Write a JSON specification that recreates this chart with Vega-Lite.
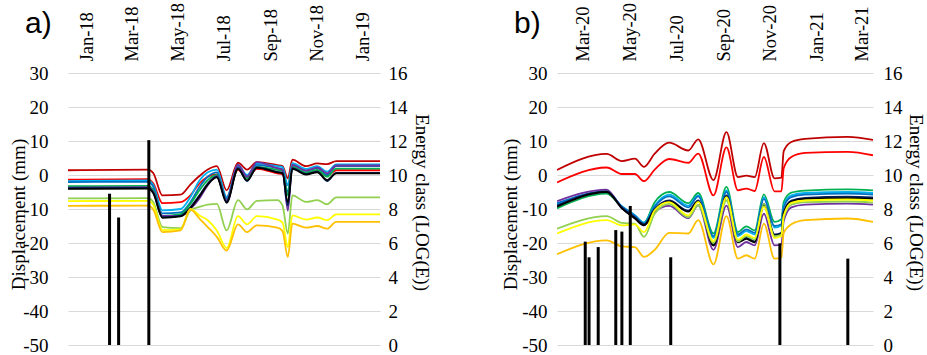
{
"$schema": "https://vega.github.io/schema/vega-lite/v6.json",
"autosize": {"type": "none"},
"padding": {"left": 68, "top": 73, "right": 859, "bottom": 282},
"background": "white",
"bounds": "flush",
"spacing": 177,
"config": {
  "view": {"stroke": null},
  "axis": {"labelFont": "Liberation Serif", "titleFont": "Liberation Serif", "labelColor": "#000", "titleColor": "#000", "titleFontWeight": "normal", "labelFontSize": 19, "titleFontSize": 19},
  "title": {"font": "Liberation Sans", "fontSize": 30, "fontWeight": "normal", "color": "#000"}
},
"datasets": {
"a_lines": [
{"s":"dr","t":"2017-12-07","v":1.4},{"s":"dr","t":"2018-03-23","v":1.6},{"s":"dr","t":"2018-03-30","v":0.5},{"s":"dr","t":"2018-04-11","v":-6.0},{"s":"dr","t":"2018-05-05","v":-5.8},{"s":"dr","t":"2018-05-18","v":-2.8},{"s":"dr","t":"2018-05-30","v":-0.3},{"s":"dr","t":"2018-06-10","v":1.6},{"s":"dr","t":"2018-06-22","v":2.6},{"s":"dr","t":"2018-07-05","v":-4.5},{"s":"dr","t":"2018-07-20","v":3.6},{"s":"dr","t":"2018-08-01","v":1.6},{"s":"dr","t":"2018-08-14","v":3.8},{"s":"dr","t":"2018-09-10","v":2.9},{"s":"dr","t":"2018-09-17","v":2.6},{"s":"dr","t":"2018-09-24","v":-1.0},{"s":"dr","t":"2018-09-30","v":4.5},{"s":"dr","t":"2018-10-18","v":2.6},{"s":"dr","t":"2018-11-02","v":3.4},{"s":"dr","t":"2018-11-15","v":3.2},{"s":"dr","t":"2018-11-27","v":4.1},{"s":"dr","t":"2019-01-24","v":4.1},
{"s":"r","t":"2017-12-07","v":-1.4},{"s":"r","t":"2018-03-23","v":-1.2},{"s":"r","t":"2018-03-30","v":-2.5},{"s":"r","t":"2018-04-11","v":-8.3},{"s":"r","t":"2018-05-05","v":-8.0},{"s":"r","t":"2018-05-18","v":-6.0},{"s":"r","t":"2018-05-30","v":-2.5},{"s":"r","t":"2018-06-10","v":-0.5},{"s":"r","t":"2018-06-22","v":0.2},{"s":"r","t":"2018-07-05","v":-6.5},{"s":"r","t":"2018-07-20","v":1.5},{"s":"r","t":"2018-08-01","v":-0.8},{"s":"r","t":"2018-08-14","v":1.8},{"s":"r","t":"2018-09-10","v":0.5},{"s":"r","t":"2018-09-17","v":0.2},{"s":"r","t":"2018-09-24","v":-3.0},{"s":"r","t":"2018-09-30","v":2.0},{"s":"r","t":"2018-10-18","v":0.5},{"s":"r","t":"2018-11-02","v":1.2},{"s":"r","t":"2018-11-15","v":-0.3},{"s":"r","t":"2018-11-27","v":1.4},{"s":"r","t":"2019-01-24","v":1.4},
{"s":"c","t":"2017-12-07","v":-1.8},{"s":"c","t":"2018-03-23","v":-1.6},{"s":"c","t":"2018-03-30","v":-3.0},{"s":"c","t":"2018-04-11","v":-10.4},{"s":"c","t":"2018-05-05","v":-10.0},{"s":"c","t":"2018-05-18","v":-6.5},{"s":"c","t":"2018-05-30","v":-1.6},{"s":"c","t":"2018-06-10","v":0.8},{"s":"c","t":"2018-06-22","v":1.6},{"s":"c","t":"2018-07-05","v":-6.5},{"s":"c","t":"2018-07-20","v":3.0},{"s":"c","t":"2018-08-01","v":0.0},{"s":"c","t":"2018-08-14","v":3.4},{"s":"c","t":"2018-09-10","v":2.6},{"s":"c","t":"2018-09-17","v":2.3},{"s":"c","t":"2018-09-24","v":-3.0},{"s":"c","t":"2018-09-30","v":3.5},{"s":"c","t":"2018-10-18","v":1.8},{"s":"c","t":"2018-11-02","v":2.6},{"s":"c","t":"2018-11-15","v":1.0},{"s":"c","t":"2018-11-27","v":3.1},{"s":"c","t":"2019-01-24","v":3.1},
{"s":"b","t":"2017-12-07","v":-2.1},{"s":"b","t":"2018-03-23","v":-2.0},{"s":"b","t":"2018-03-30","v":-3.5},{"s":"b","t":"2018-04-11","v":-11.3},{"s":"b","t":"2018-05-05","v":-11.0},{"s":"b","t":"2018-05-18","v":-8.0},{"s":"b","t":"2018-05-30","v":-3.5},{"s":"b","t":"2018-06-10","v":-0.5},{"s":"b","t":"2018-06-22","v":0.8},{"s":"b","t":"2018-07-05","v":-7.0},{"s":"b","t":"2018-07-20","v":2.4},{"s":"b","t":"2018-08-01","v":-0.5},{"s":"b","t":"2018-08-14","v":3.0},{"s":"b","t":"2018-09-10","v":2.0},{"s":"b","t":"2018-09-17","v":1.7},{"s":"b","t":"2018-09-24","v":-5.0},{"s":"b","t":"2018-09-30","v":3.0},{"s":"b","t":"2018-10-18","v":1.3},{"s":"b","t":"2018-11-02","v":2.0},{"s":"b","t":"2018-11-15","v":0.0},{"s":"b","t":"2018-11-27","v":2.6},{"s":"b","t":"2019-01-24","v":2.6},
{"s":"g","t":"2017-12-07","v":-3.3},{"s":"g","t":"2018-03-23","v":-3.2},{"s":"g","t":"2018-03-30","v":-4.5},{"s":"g","t":"2018-04-11","v":-12.0},{"s":"g","t":"2018-05-05","v":-11.5},{"s":"g","t":"2018-05-18","v":-8.5},{"s":"g","t":"2018-05-30","v":-4.5},{"s":"g","t":"2018-06-10","v":-1.5},{"s":"g","t":"2018-06-22","v":0.0},{"s":"g","t":"2018-07-05","v":-7.5},{"s":"g","t":"2018-07-20","v":1.8},{"s":"g","t":"2018-08-01","v":-1.0},{"s":"g","t":"2018-08-14","v":2.4},{"s":"g","t":"2018-09-10","v":1.5},{"s":"g","t":"2018-09-17","v":1.2},{"s":"g","t":"2018-09-24","v":-6.0},{"s":"g","t":"2018-09-30","v":2.5},{"s":"g","t":"2018-10-18","v":0.8},{"s":"g","t":"2018-11-02","v":1.5},{"s":"g","t":"2018-11-15","v":-0.5},{"s":"g","t":"2018-11-27","v":1.9},{"s":"g","t":"2019-01-24","v":1.9},
{"s":"p","t":"2017-12-07","v":-3.7},{"s":"p","t":"2018-03-23","v":-3.6},{"s":"p","t":"2018-03-30","v":-5.0},{"s":"p","t":"2018-04-11","v":-12.0},{"s":"p","t":"2018-05-05","v":-12.0},{"s":"p","t":"2018-05-18","v":-10.0},{"s":"p","t":"2018-05-30","v":-6.9},{"s":"p","t":"2018-06-10","v":-3.0},{"s":"p","t":"2018-06-22","v":-0.3},{"s":"p","t":"2018-07-05","v":-7.5},{"s":"p","t":"2018-07-20","v":3.0},{"s":"p","t":"2018-08-01","v":-0.5},{"s":"p","t":"2018-08-14","v":3.8},{"s":"p","t":"2018-09-10","v":2.0},{"s":"p","t":"2018-09-17","v":1.5},{"s":"p","t":"2018-09-24","v":-10.5},{"s":"p","t":"2018-09-30","v":3.0},{"s":"p","t":"2018-10-18","v":1.3},{"s":"p","t":"2018-11-02","v":2.2},{"s":"p","t":"2018-11-15","v":0.5},{"s":"p","t":"2018-11-27","v":2.8},{"s":"p","t":"2019-01-24","v":2.8},
{"s":"n","t":"2017-12-07","v":-3.9},{"s":"n","t":"2018-03-23","v":-3.8},{"s":"n","t":"2018-03-30","v":-5.2},{"s":"n","t":"2018-04-11","v":-12.4},{"s":"n","t":"2018-05-05","v":-12.0},{"s":"n","t":"2018-05-18","v":-9.5},{"s":"n","t":"2018-05-30","v":-6.0},{"s":"n","t":"2018-06-10","v":-2.5},{"s":"n","t":"2018-06-22","v":-0.5},{"s":"n","t":"2018-07-05","v":-7.9},{"s":"n","t":"2018-07-20","v":2.0},{"s":"n","t":"2018-08-01","v":-1.8},{"s":"n","t":"2018-08-14","v":2.3},{"s":"n","t":"2018-09-10","v":0.9},{"s":"n","t":"2018-09-17","v":0.6},{"s":"n","t":"2018-09-24","v":-9.0},{"s":"n","t":"2018-09-30","v":2.0},{"s":"n","t":"2018-10-18","v":0.3},{"s":"n","t":"2018-11-02","v":1.0},{"s":"n","t":"2018-11-15","v":-1.8},{"s":"n","t":"2018-11-27","v":0.6},{"s":"n","t":"2019-01-24","v":0.6},
{"s":"k","t":"2017-12-07","v":-4.1},{"s":"k","t":"2018-03-23","v":-4.0},{"s":"k","t":"2018-03-30","v":-5.4},{"s":"k","t":"2018-04-11","v":-12.6},{"s":"k","t":"2018-05-05","v":-12.2},{"s":"k","t":"2018-05-18","v":-9.8},{"s":"k","t":"2018-05-30","v":-6.3},{"s":"k","t":"2018-06-10","v":-2.8},{"s":"k","t":"2018-06-22","v":-0.7},{"s":"k","t":"2018-07-05","v":-8.2},{"s":"k","t":"2018-07-20","v":1.8},{"s":"k","t":"2018-08-01","v":-1.6},{"s":"k","t":"2018-08-14","v":2.1},{"s":"k","t":"2018-09-10","v":0.8},{"s":"k","t":"2018-09-17","v":0.5},{"s":"k","t":"2018-09-24","v":-8.0},{"s":"k","t":"2018-09-30","v":1.8},{"s":"k","t":"2018-10-18","v":0.1},{"s":"k","t":"2018-11-02","v":0.8},{"s":"k","t":"2018-11-15","v":-1.5},{"s":"k","t":"2018-11-27","v":0.5},{"s":"k","t":"2019-01-24","v":0.5},
{"s":"lg","t":"2017-12-07","v":-6.9},{"s":"lg","t":"2018-03-23","v":-6.8},{"s":"lg","t":"2018-03-30","v":-8.0},{"s":"lg","t":"2018-04-11","v":-15.3},{"s":"lg","t":"2018-05-05","v":-15.6},{"s":"lg","t":"2018-05-18","v":-10.4},{"s":"lg","t":"2018-05-30","v":-9.4},{"s":"lg","t":"2018-06-10","v":-8.7},{"s":"lg","t":"2018-06-22","v":-8.5},{"s":"lg","t":"2018-07-05","v":-16.3},{"s":"lg","t":"2018-07-20","v":-7.4},{"s":"lg","t":"2018-08-01","v":-10.1},{"s":"lg","t":"2018-08-14","v":-7.6},{"s":"lg","t":"2018-09-10","v":-7.4},{"s":"lg","t":"2018-09-17","v":-9.0},{"s":"lg","t":"2018-09-24","v":-17.2},{"s":"lg","t":"2018-09-30","v":-6.0},{"s":"lg","t":"2018-10-18","v":-7.9},{"s":"lg","t":"2018-11-02","v":-7.4},{"s":"lg","t":"2018-11-15","v":-8.6},{"s":"lg","t":"2018-11-27","v":-6.6},{"s":"lg","t":"2019-01-24","v":-6.6},
{"s":"y","t":"2017-12-07","v":-7.7},{"s":"y","t":"2018-03-23","v":-7.6},{"s":"y","t":"2018-03-30","v":-8.8},{"s":"y","t":"2018-04-11","v":-16.2},{"s":"y","t":"2018-05-05","v":-16.0},{"s":"y","t":"2018-05-18","v":-10.0},{"s":"y","t":"2018-05-30","v":-11.9},{"s":"y","t":"2018-06-10","v":-13.3},{"s":"y","t":"2018-06-22","v":-16.3},{"s":"y","t":"2018-07-05","v":-21.5},{"s":"y","t":"2018-07-20","v":-12.1},{"s":"y","t":"2018-08-01","v":-14.5},{"s":"y","t":"2018-08-14","v":-12.1},{"s":"y","t":"2018-09-10","v":-13.1},{"s":"y","t":"2018-09-17","v":-14.0},{"s":"y","t":"2018-09-24","v":-21.2},{"s":"y","t":"2018-09-30","v":-11.9},{"s":"y","t":"2018-10-18","v":-13.1},{"s":"y","t":"2018-11-02","v":-12.5},{"s":"y","t":"2018-11-15","v":-13.3},{"s":"y","t":"2018-11-27","v":-11.6},{"s":"y","t":"2019-01-24","v":-11.6},
{"s":"o","t":"2017-12-07","v":-9.1},{"s":"o","t":"2018-03-23","v":-9.0},{"s":"o","t":"2018-03-30","v":-10.2},{"s":"o","t":"2018-04-11","v":-16.8},{"s":"o","t":"2018-05-05","v":-16.3},{"s":"o","t":"2018-05-18","v":-10.2},{"s":"o","t":"2018-05-30","v":-12.8},{"s":"o","t":"2018-06-10","v":-15.3},{"s":"o","t":"2018-06-22","v":-18.2},{"s":"o","t":"2018-07-05","v":-22.2},{"s":"o","t":"2018-07-20","v":-14.5},{"s":"o","t":"2018-08-01","v":-16.8},{"s":"o","t":"2018-08-14","v":-14.8},{"s":"o","t":"2018-09-10","v":-15.5},{"s":"o","t":"2018-09-17","v":-16.5},{"s":"o","t":"2018-09-24","v":-24.1},{"s":"o","t":"2018-09-30","v":-14.3},{"s":"o","t":"2018-10-18","v":-15.5},{"s":"o","t":"2018-11-02","v":-15.0},{"s":"o","t":"2018-11-15","v":-15.8},{"s":"o","t":"2018-11-27","v":-13.8},{"s":"o","t":"2019-01-24","v":-13.8}
],
"a_energy": [
{"t":"2018-01-31","e":8.9},{"t":"2018-02-12","e":7.5},{"t":"2018-03-24","e":12.05}
],
"b_lines": [
{"s":"dr","t":"2020-01-27","v":1.5},{"s":"dr","t":"2020-04-01","v":6.2},{"s":"dr","t":"2020-04-21","v":4.1},{"s":"dr","t":"2020-05-08","v":4.8},{"s":"dr","t":"2020-05-20","v":2.4},{"s":"dr","t":"2020-06-03","v":6.3},{"s":"dr","t":"2020-06-22","v":9.5},{"s":"dr","t":"2020-07-17","v":7.2},{"s":"dr","t":"2020-07-30","v":10.5},{"s":"dr","t":"2020-08-19","v":-1.5},{"s":"dr","t":"2020-09-05","v":12.6},{"s":"dr","t":"2020-09-20","v":-0.6},{"s":"dr","t":"2020-10-01","v":-0.2},{"s":"dr","t":"2020-10-12","v":-0.6},{"s":"dr","t":"2020-10-24","v":9.4},{"s":"dr","t":"2020-11-07","v":-1.0},{"s":"dr","t":"2020-11-16","v":-0.8},{"s":"dr","t":"2020-11-19","v":7.0},{"s":"dr","t":"2020-11-29","v":9.7},{"s":"dr","t":"2020-12-17","v":10.6},{"s":"dr","t":"2021-02-11","v":11.2},{"s":"dr","t":"2021-03-16","v":10.3},
{"s":"r","t":"2020-01-27","v":-2.2},{"s":"r","t":"2020-04-01","v":2.2},{"s":"r","t":"2020-04-21","v":0.3},{"s":"r","t":"2020-05-08","v":0.3},{"s":"r","t":"2020-05-20","v":-1.8},{"s":"r","t":"2020-06-03","v":1.6},{"s":"r","t":"2020-06-22","v":4.7},{"s":"r","t":"2020-07-17","v":3.6},{"s":"r","t":"2020-07-30","v":6.3},{"s":"r","t":"2020-08-19","v":-6.0},{"s":"r","t":"2020-09-05","v":8.1},{"s":"r","t":"2020-09-20","v":-4.5},{"s":"r","t":"2020-10-01","v":-4.0},{"s":"r","t":"2020-10-12","v":-4.7},{"s":"r","t":"2020-10-24","v":5.3},{"s":"r","t":"2020-11-07","v":-4.8},{"s":"r","t":"2020-11-16","v":-4.8},{"s":"r","t":"2020-11-19","v":2.0},{"s":"r","t":"2020-11-29","v":5.3},{"s":"r","t":"2020-12-17","v":6.5},{"s":"r","t":"2021-02-11","v":6.8},{"s":"r","t":"2021-03-16","v":5.8},
{"s":"g","t":"2020-01-27","v":-9.8},{"s":"g","t":"2020-04-01","v":-5.5},{"s":"g","t":"2020-04-21","v":-9.5},{"s":"g","t":"2020-05-08","v":-12.0},{"s":"g","t":"2020-05-20","v":-14.0},{"s":"g","t":"2020-06-03","v":-8.0},{"s":"g","t":"2020-06-22","v":-5.0},{"s":"g","t":"2020-07-17","v":-8.3},{"s":"g","t":"2020-07-30","v":-5.3},{"s":"g","t":"2020-08-19","v":-17.2},{"s":"g","t":"2020-09-05","v":-3.5},{"s":"g","t":"2020-09-20","v":-16.8},{"s":"g","t":"2020-10-01","v":-15.1},{"s":"g","t":"2020-10-12","v":-16.3},{"s":"g","t":"2020-10-24","v":-5.7},{"s":"g","t":"2020-11-07","v":-13.8},{"s":"g","t":"2020-11-16","v":-13.0},{"s":"g","t":"2020-11-19","v":-8.0},{"s":"g","t":"2020-11-29","v":-5.2},{"s":"g","t":"2020-12-17","v":-4.6},{"s":"g","t":"2021-02-11","v":-4.2},{"s":"g","t":"2021-03-16","v":-4.5},
{"s":"c","t":"2020-01-27","v":-8.7},{"s":"c","t":"2020-04-01","v":-5.0},{"s":"c","t":"2020-04-21","v":-9.2},{"s":"c","t":"2020-05-08","v":-11.8},{"s":"c","t":"2020-05-20","v":-14.0},{"s":"c","t":"2020-06-03","v":-9.0},{"s":"c","t":"2020-06-22","v":-5.8},{"s":"c","t":"2020-07-17","v":-9.0},{"s":"c","t":"2020-07-30","v":-6.0},{"s":"c","t":"2020-08-19","v":-18.5},{"s":"c","t":"2020-09-05","v":-4.5},{"s":"c","t":"2020-09-20","v":-18.0},{"s":"c","t":"2020-10-01","v":-16.5},{"s":"c","t":"2020-10-12","v":-17.5},{"s":"c","t":"2020-10-24","v":-6.5},{"s":"c","t":"2020-11-07","v":-15.5},{"s":"c","t":"2020-11-16","v":-14.8},{"s":"c","t":"2020-11-19","v":-9.0},{"s":"c","t":"2020-11-29","v":-6.0},{"s":"c","t":"2020-12-17","v":-5.3},{"s":"c","t":"2021-02-11","v":-5.0},{"s":"c","t":"2021-03-16","v":-5.3},
{"s":"b","t":"2020-01-27","v":-8.3},{"s":"b","t":"2020-04-01","v":-4.8},{"s":"b","t":"2020-04-21","v":-9.3},{"s":"b","t":"2020-05-08","v":-12.0},{"s":"b","t":"2020-05-20","v":-14.3},{"s":"b","t":"2020-06-03","v":-9.3},{"s":"b","t":"2020-06-22","v":-6.3},{"s":"b","t":"2020-07-17","v":-9.5},{"s":"b","t":"2020-07-30","v":-6.3},{"s":"b","t":"2020-08-19","v":-18.0},{"s":"b","t":"2020-09-05","v":-5.0},{"s":"b","t":"2020-09-20","v":-17.5},{"s":"b","t":"2020-10-01","v":-16.0},{"s":"b","t":"2020-10-12","v":-17.0},{"s":"b","t":"2020-10-24","v":-7.0},{"s":"b","t":"2020-11-07","v":-15.0},{"s":"b","t":"2020-11-16","v":-14.5},{"s":"b","t":"2020-11-19","v":-9.5},{"s":"b","t":"2020-11-29","v":-6.5},{"s":"b","t":"2020-12-17","v":-5.8},{"s":"b","t":"2021-02-11","v":-5.5},{"s":"b","t":"2021-03-16","v":-5.8},
{"s":"p","t":"2020-01-27","v":-7.7},{"s":"p","t":"2020-04-01","v":-4.3},{"s":"p","t":"2020-04-21","v":-9.8},{"s":"p","t":"2020-05-08","v":-12.5},{"s":"p","t":"2020-05-20","v":-14.8},{"s":"p","t":"2020-06-03","v":-10.8},{"s":"p","t":"2020-06-22","v":-9.1},{"s":"p","t":"2020-07-17","v":-12.7},{"s":"p","t":"2020-07-30","v":-8.9},{"s":"p","t":"2020-08-19","v":-22.0},{"s":"p","t":"2020-09-05","v":-9.0},{"s":"p","t":"2020-09-20","v":-21.2},{"s":"p","t":"2020-10-01","v":-19.7},{"s":"p","t":"2020-10-12","v":-20.7},{"s":"p","t":"2020-10-24","v":-11.4},{"s":"p","t":"2020-11-07","v":-20.7},{"s":"p","t":"2020-11-16","v":-20.5},{"s":"p","t":"2020-11-19","v":-13.5},{"s":"p","t":"2020-11-29","v":-9.5},{"s":"p","t":"2020-12-17","v":-8.7},{"s":"p","t":"2021-02-11","v":-8.4},{"s":"p","t":"2021-03-16","v":-8.7},
{"s":"n","t":"2020-01-27","v":-9.0},{"s":"n","t":"2020-04-01","v":-4.8},{"s":"n","t":"2020-04-21","v":-9.5},{"s":"n","t":"2020-05-08","v":-12.5},{"s":"n","t":"2020-05-20","v":-14.5},{"s":"n","t":"2020-06-03","v":-10.0},{"s":"n","t":"2020-06-22","v":-7.5},{"s":"n","t":"2020-07-17","v":-10.5},{"s":"n","t":"2020-07-30","v":-7.5},{"s":"n","t":"2020-08-19","v":-20.5},{"s":"n","t":"2020-09-05","v":-6.0},{"s":"n","t":"2020-09-20","v":-19.5},{"s":"n","t":"2020-10-01","v":-18.5},{"s":"n","t":"2020-10-12","v":-19.5},{"s":"n","t":"2020-10-24","v":-8.5},{"s":"n","t":"2020-11-07","v":-17.5},{"s":"n","t":"2020-11-16","v":-17.0},{"s":"n","t":"2020-11-19","v":-11.0},{"s":"n","t":"2020-11-29","v":-7.5},{"s":"n","t":"2020-12-17","v":-6.7},{"s":"n","t":"2021-02-11","v":-6.4},{"s":"n","t":"2021-03-16","v":-6.6},
{"s":"k","t":"2020-01-27","v":-9.3},{"s":"k","t":"2020-04-01","v":-5.0},{"s":"k","t":"2020-04-21","v":-9.8},{"s":"k","t":"2020-05-08","v":-12.8},{"s":"k","t":"2020-05-20","v":-14.8},{"s":"k","t":"2020-06-03","v":-10.3},{"s":"k","t":"2020-06-22","v":-7.8},{"s":"k","t":"2020-07-17","v":-10.8},{"s":"k","t":"2020-07-30","v":-7.8},{"s":"k","t":"2020-08-19","v":-20.8},{"s":"k","t":"2020-09-05","v":-6.4},{"s":"k","t":"2020-09-20","v":-19.8},{"s":"k","t":"2020-10-01","v":-18.8},{"s":"k","t":"2020-10-12","v":-19.8},{"s":"k","t":"2020-10-24","v":-8.8},{"s":"k","t":"2020-11-07","v":-17.8},{"s":"k","t":"2020-11-16","v":-17.3},{"s":"k","t":"2020-11-19","v":-11.3},{"s":"k","t":"2020-11-29","v":-7.8},{"s":"k","t":"2020-12-17","v":-7.0},{"s":"k","t":"2021-02-11","v":-6.8},{"s":"k","t":"2021-03-16","v":-7.0},
{"s":"lg","t":"2020-01-27","v":-15.8},{"s":"lg","t":"2020-04-01","v":-12.1},{"s":"lg","t":"2020-04-21","v":-14.1},{"s":"lg","t":"2020-05-08","v":-14.3},{"s":"lg","t":"2020-05-20","v":-18.2},{"s":"lg","t":"2020-06-03","v":-11.4},{"s":"lg","t":"2020-06-22","v":-8.5},{"s":"lg","t":"2020-07-17","v":-12.4},{"s":"lg","t":"2020-07-30","v":-8.9},{"s":"lg","t":"2020-08-19","v":-20.0},{"s":"lg","t":"2020-09-05","v":-7.5},{"s":"lg","t":"2020-09-20","v":-19.5},{"s":"lg","t":"2020-10-01","v":-18.0},{"s":"lg","t":"2020-10-12","v":-19.0},{"s":"lg","t":"2020-10-24","v":-8.5},{"s":"lg","t":"2020-11-07","v":-18.0},{"s":"lg","t":"2020-11-16","v":-17.5},{"s":"lg","t":"2020-11-19","v":-12.5},{"s":"lg","t":"2020-11-29","v":-8.7},{"s":"lg","t":"2020-12-17","v":-8.0},{"s":"lg","t":"2021-02-11","v":-7.8},{"s":"lg","t":"2021-03-16","v":-8.1},
{"s":"y","t":"2020-01-27","v":-17.2},{"s":"y","t":"2020-04-01","v":-13.3},{"s":"y","t":"2020-04-21","v":-14.8},{"s":"y","t":"2020-05-08","v":-14.5},{"s":"y","t":"2020-05-20","v":-16.8},{"s":"y","t":"2020-06-03","v":-10.4},{"s":"y","t":"2020-06-22","v":-8.0},{"s":"y","t":"2020-07-17","v":-11.9},{"s":"y","t":"2020-07-30","v":-7.9},{"s":"y","t":"2020-08-19","v":-19.5},{"s":"y","t":"2020-09-05","v":-6.5},{"s":"y","t":"2020-09-20","v":-19.0},{"s":"y","t":"2020-10-01","v":-17.5},{"s":"y","t":"2020-10-12","v":-18.5},{"s":"y","t":"2020-10-24","v":-9.4},{"s":"y","t":"2020-11-07","v":-18.5},{"s":"y","t":"2020-11-16","v":-18.0},{"s":"y","t":"2020-11-19","v":-12.0},{"s":"y","t":"2020-11-29","v":-8.2},{"s":"y","t":"2020-12-17","v":-7.5},{"s":"y","t":"2021-02-11","v":-7.2},{"s":"y","t":"2021-03-16","v":-7.5},
{"s":"o","t":"2020-01-27","v":-23.3},{"s":"o","t":"2020-04-01","v":-19.2},{"s":"o","t":"2020-04-21","v":-21.0},{"s":"o","t":"2020-05-08","v":-21.2},{"s":"o","t":"2020-05-20","v":-24.1},{"s":"o","t":"2020-06-03","v":-22.0},{"s":"o","t":"2020-06-22","v":-17.0},{"s":"o","t":"2020-07-17","v":-17.2},{"s":"o","t":"2020-07-30","v":-13.3},{"s":"o","t":"2020-08-19","v":-26.3},{"s":"o","t":"2020-09-05","v":-12.1},{"s":"o","t":"2020-09-20","v":-24.6},{"s":"o","t":"2020-10-01","v":-23.6},{"s":"o","t":"2020-10-12","v":-24.6},{"s":"o","t":"2020-10-24","v":-14.3},{"s":"o","t":"2020-11-07","v":-24.6},{"s":"o","t":"2020-11-16","v":-24.3},{"s":"o","t":"2020-11-19","v":-17.0},{"s":"o","t":"2020-11-29","v":-14.5},{"s":"o","t":"2020-12-17","v":-13.3},{"s":"o","t":"2021-02-11","v":-12.8},{"s":"o","t":"2021-03-16","v":-13.8}
],
"b_energy": [
{"t":"2020-03-04","e":6.08},{"t":"2020-03-09","e":5.16},{"t":"2020-03-21","e":5.76},{"t":"2020-04-13","e":6.76},{"t":"2020-04-21","e":6.67},{"t":"2020-05-02","e":8.18},{"t":"2020-06-24","e":5.16},{"t":"2020-11-14","e":5.98},{"t":"2021-02-11","e":5.08}
]
},
"hconcat": [
{
  "width": 312, "height": 272,
  "title": {"text": "a)", "anchor": "start", "frame": "group", "dx": -43, "dy": 67, "offset": 0, "baseline": "bottom"},
  "layer": [
    {
      "data": {"name": "a_lines"},
      "mark": {"type": "line", "interpolate": "monotone", "strokeWidth": 1.8, "clip": true},
      "encoding": {
        "x": {"field": "t", "type": "temporal", "scale": {"type": "utc", "domain": [{"year": 2017, "month": 12, "date": 7, "utc": true}, {"year": 2019, "month": 1, "date": 24, "utc": true}]},
              "axis": {"orient": "top", "title": null, "grid": false, "domain": false, "ticks": false, "labelAngle": -90, "labelAlign": "left", "labelBaseline": "middle", "labelPadding": 12, "labelFontSize": 18.5, "labelExpr": "utcFormat(datum.value, '%b-%y')",
                       "values": [{"year": 2018, "month": 1, "date": 1, "utc": true}, {"year": 2018, "month": 3, "date": 1, "utc": true}, {"year": 2018, "month": 5, "date": 1, "utc": true}, {"year": 2018, "month": 7, "date": 1, "utc": true}, {"year": 2018, "month": 9, "date": 1, "utc": true}, {"year": 2018, "month": 11, "date": 1, "utc": true}, {"year": 2019, "month": 1, "date": 1, "utc": true}]}},
        "y": {"field": "v", "type": "quantitative", "scale": {"domain": [-50, 30]},
              "axis": {"title": "Displacement (mm)", "values": [-50, -40, -30, -20, -10, 0, 10, 20, 30], "grid": true, "gridColor": "#d9d9d9", "domain": false, "ticks": false, "labelPadding": 20, "labelExpr": "'' + datum.value", "titleAngle": -90, "titleX": -50, "titleY": 141, "titleAlign": "center", "titleBaseline": "middle"}},
        "color": {"field": "s", "type": "nominal", "legend": null,
                  "scale": {"domain": ["dr", "r", "c", "b", "g", "p", "n", "k", "lg", "y", "o"], "range": ["#C00000", "#FF0000", "#00B0F0", "#0070C0", "#00B050", "#7030A0", "#002060", "#000000", "#92D050", "#FFFF00", "#FFC000"]}}
      }
    },
    {
      "data": {"name": "a_energy"},
      "mark": {"type": "rule", "strokeWidth": 3, "color": "#000000"},
      "encoding": {
        "x": {"field": "t", "type": "temporal"},
        "y": {"field": "e", "type": "quantitative", "scale": {"domain": [0, 16]},
              "axis": {"orient": "right", "title": "Energy class (LOG(E))", "values": [0, 2, 4, 6, 8, 10, 12, 14, 16], "grid": false, "domain": false, "ticks": false, "labelPadding": 8, "titleAngle": 90, "titleX": 41, "titleY": 129, "titleAlign": "center", "titleBaseline": "middle"}},
        "y2": {"datum": 0}
      }
    }
  ],
  "resolve": {"scale": {"y": "independent"}}
},
{
  "width": 316, "height": 272,
  "title": {"text": "b)", "anchor": "start", "frame": "group", "dx": -43, "dy": 67, "offset": 0, "baseline": "bottom"},
  "layer": [
    {
      "data": {"name": "b_lines"},
      "mark": {"type": "line", "interpolate": "monotone", "strokeWidth": 1.8, "clip": true},
      "encoding": {
        "x": {"field": "t", "type": "temporal", "scale": {"type": "utc", "domain": [{"year": 2020, "month": 1, "date": 27, "utc": true}, {"year": 2021, "month": 3, "date": 16, "utc": true}]},
              "axis": {"orient": "top", "title": null, "grid": false, "domain": false, "ticks": false, "labelAngle": -90, "labelAlign": "left", "labelBaseline": "middle", "labelPadding": 12, "labelFontSize": 18.5, "labelExpr": "utcFormat(datum.value, '%b-%y')",
                       "values": [{"year": 2020, "month": 3, "date": 1, "utc": true}, {"year": 2020, "month": 5, "date": 1, "utc": true}, {"year": 2020, "month": 7, "date": 1, "utc": true}, {"year": 2020, "month": 9, "date": 1, "utc": true}, {"year": 2020, "month": 11, "date": 1, "utc": true}, {"year": 2021, "month": 1, "date": 1, "utc": true}, {"year": 2021, "month": 3, "date": 1, "utc": true}]}},
        "y": {"field": "v", "type": "quantitative", "scale": {"domain": [-50, 30]},
              "axis": {"title": "Displacement (mm)", "values": [-50, -40, -30, -20, -10, 0, 10, 20, 30], "grid": true, "gridColor": "#d9d9d9", "domain": false, "ticks": false, "labelPadding": 10, "labelExpr": "'' + datum.value", "titleAngle": -90, "titleX": -47, "titleY": 141, "titleAlign": "center", "titleBaseline": "middle"}},
        "color": {"field": "s", "type": "nominal", "legend": null,
                  "scale": {"domain": ["dr", "r", "c", "b", "g", "p", "n", "k", "lg", "y", "o"], "range": ["#C00000", "#FF0000", "#00B0F0", "#0070C0", "#00B050", "#7030A0", "#002060", "#000000", "#92D050", "#FFFF00", "#FFC000"]}}
      }
    },
    {
      "data": {"name": "b_energy"},
      "mark": {"type": "rule", "strokeWidth": 3, "color": "#000000"},
      "encoding": {
        "x": {"field": "t", "type": "temporal"},
        "y": {"field": "e", "type": "quantitative", "scale": {"domain": [0, 16]},
              "axis": {"orient": "right", "title": "Energy class (LOG(E))", "values": [0, 2, 4, 6, 8, 10, 12, 14, 16], "grid": false, "domain": false, "ticks": false, "labelPadding": 10, "titleAngle": 90, "titleX": 42, "titleY": 129, "titleAlign": "center", "titleBaseline": "middle"}},
        "y2": {"datum": 0}
      }
    }
  ],
  "resolve": {"scale": {"y": "independent"}}
}
]
}
